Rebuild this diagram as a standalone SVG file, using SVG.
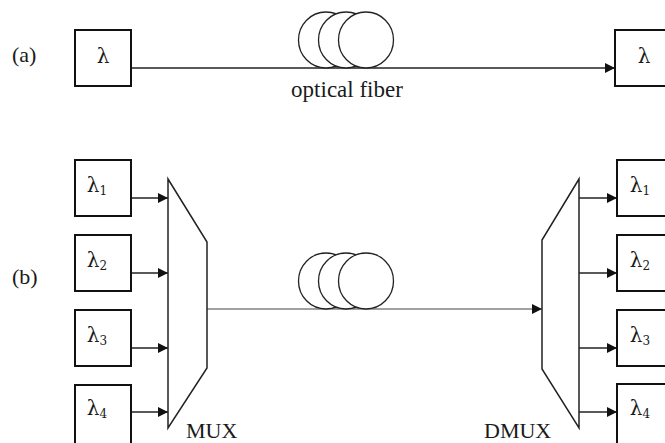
<svg xmlns="http://www.w3.org/2000/svg" width="665" height="443" viewBox="0 0 665 443">
<style>
.box{fill:#fff;stroke:#111;stroke-width:2}
.ln{fill:none;stroke:#222;stroke-width:1.4}
.thin{fill:none;stroke:#444;stroke-width:1.1}
.coil{fill:#fff;stroke:#222;stroke-width:1.3}
.mux{fill:#fff;stroke:#222;stroke-width:1.5}
.t{font-family:"Liberation Serif",serif;fill:#1a1a1a}
.lam{font-family:"DejaVu Serif",serif;font-size:20px;fill:#1a1a1a;text-anchor:middle}
.sub{font-size:12px}
</style>
<defs>
<marker id="ah" viewBox="0 0 10 10" refX="10" refY="5" markerWidth="10" markerHeight="10" markerUnits="userSpaceOnUse" orient="auto">
<path d="M0,0 L10,5 L0,10 Z" fill="#111"/>
</marker>
</defs>
<rect width="665" height="443" fill="#fff"/>

<text class="t" x="12" y="62" font-size="22">(a)</text>
<text class="t" x="12" y="284" font-size="22">(b)</text>

<g id="connectors">
<line class="ln" x1="131" y1="68" x2="615" y2="68" marker-end="url(#ah)"/>
<line class="ln" x1="131" y1="198" x2="168" y2="198" marker-end="url(#ah)"/>
<line class="ln" x1="131" y1="273" x2="168" y2="273" marker-end="url(#ah)"/>
<line class="ln" x1="131" y1="348" x2="168" y2="348" marker-end="url(#ah)"/>
<line class="ln" x1="131" y1="412" x2="168" y2="412" marker-end="url(#ah)"/>
<line class="thin" x1="207" y1="309" x2="542" y2="309" marker-end="url(#ah)"/>
<line class="ln" x1="579" y1="198" x2="617" y2="198" marker-end="url(#ah)"/>
<line class="ln" x1="579" y1="273" x2="617" y2="273" marker-end="url(#ah)"/>
<line class="ln" x1="579" y1="348" x2="617" y2="348" marker-end="url(#ah)"/>
<line class="ln" x1="579" y1="412" x2="617" y2="412" marker-end="url(#ah)"/>
</g>

<g id="fiber-a">
<ellipse class="coil" cx="326" cy="40" rx="27.5" ry="28"/>
<ellipse class="coil" cx="346" cy="40" rx="27.5" ry="28"/>
<ellipse class="coil" cx="366" cy="40" rx="27.5" ry="28"/>
<text class="t" x="347" y="97" font-size="23" text-anchor="middle">optical fiber</text>
</g>

<g id="fiber-b">
<ellipse class="coil" cx="326" cy="281" rx="27.5" ry="28"/>
<ellipse class="coil" cx="346" cy="281" rx="27.5" ry="28"/>
<ellipse class="coil" cx="366" cy="281" rx="27.5" ry="28"/>
</g>

<g id="src-a">
<rect class="box" x="75" y="30" width="56" height="56"/>
<text class="lam" x="103" y="63">λ</text>
</g>
<g id="dst-a">
<rect class="box" x="615" y="30" width="58" height="56"/>
<text class="lam" x="644" y="63">λ</text>
</g>

<g id="src1"><rect class="box" x="75" y="160" width="56" height="56"/><text class="lam" x="97" y="192">λ<tspan class="sub" dy="3">1</tspan></text></g>
<g id="src2"><rect class="box" x="75" y="235" width="56" height="56"/><text class="lam" x="97" y="267">λ<tspan class="sub" dy="3">2</tspan></text></g>
<g id="src3"><rect class="box" x="75" y="310" width="56" height="56"/><text class="lam" x="97" y="342">λ<tspan class="sub" dy="3">3</tspan></text></g>
<g id="src4"><rect class="box" x="75" y="385" width="56" height="62"/><text class="lam" x="97" y="415">λ<tspan class="sub" dy="3">4</tspan></text></g>

<g id="mux">
<polygon class="mux" points="168,179 207,242 207,368 168,428"/>
<text class="t" x="186" y="438" font-size="22">MUX</text>
</g>

<g id="dmux">
<polygon class="mux" points="579,179 542,240 542,369 579,428"/>
<text class="t" x="484" y="438" font-size="22">DMUX</text>
</g>

<g id="dst1"><rect class="box" x="617" y="160" width="56" height="56"/><text class="lam" x="640" y="192">λ<tspan class="sub" dy="3">1</tspan></text></g>
<g id="dst2"><rect class="box" x="617" y="235" width="56" height="56"/><text class="lam" x="640" y="267">λ<tspan class="sub" dy="3">2</tspan></text></g>
<g id="dst3"><rect class="box" x="617" y="310" width="56" height="56"/><text class="lam" x="640" y="342">λ<tspan class="sub" dy="3">3</tspan></text></g>
<g id="dst4"><rect class="box" x="617" y="384" width="56" height="62"/><text class="lam" x="640" y="415">λ<tspan class="sub" dy="3">4</tspan></text></g>
</svg>
